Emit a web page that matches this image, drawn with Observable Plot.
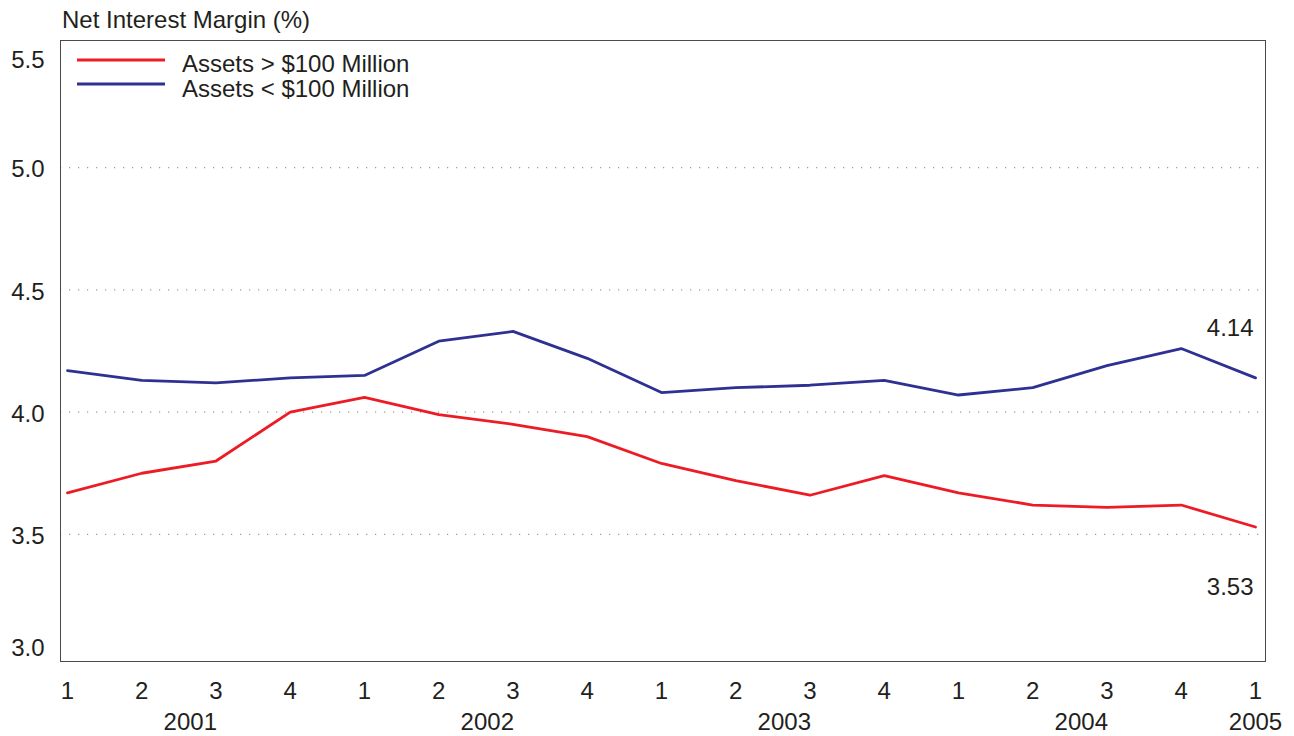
<!DOCTYPE html>
<html>
<head>
<meta charset="utf-8">
<script src="https://cdn.jsdelivr.net/npm/d3@7"></script>
<script src="https://cdn.jsdelivr.net/npm/@observablehq/plot@0.6"></script>
<style>
  html, body { margin: 0; padding: 0; background: #fff; }
  #wrap { position: relative; width: 1294px; height: 736px; font-family: "Liberation Sans", Arial, sans-serif; color: #231f20; }
  #overlay { position: absolute; left: 0; top: 0; pointer-events: none; }
</style>
</head>
<body>
<div id="wrap"></div>
<script>
// ---- data ----
const quarters = ["1","2","3","4","1","2","3","4","1","2","3","4","1","2","3","4","1"];
const years = ["2001","2002","2003","2004","2005"];
const seriesNames = ["Assets > $100 Million", "Assets < $100 Million"];
const seriesColors = ["#ED1C24", "#2E3192"];
const assetsLarge = [3.67,3.75,3.80,4.00,4.06,3.99,3.95,3.90,3.79,3.72,3.66,3.74,3.67,3.62,3.61,3.62,3.53];
const assetsSmall = [4.17,4.13,4.12,4.14,4.15,4.29,4.33,4.22,4.08,4.10,4.11,4.13,4.07,4.10,4.19,4.26,4.14];
const yTicksInner = [3.5, 4.0, 4.5, 5.0];
const yTickTop = [5.5];
const yTickBottom = [3.0];
const title = "Net Interest Margin (%)";

// ---- build tables ----
const data = quarters.map((q, i) => ({ i, q, large: assetsLarge[i], small: assetsSmall[i] }));
const yearData = years.map((year, k) => ({ year, i: k < years.length - 1 ? 4 * k + 2 : 4 * k }));
const last = data.length - 1;
const fullYears = yearData.slice(0, -1);
const lastYear = yearData.slice(-1);

const font = "'Liberation Sans', Arial, sans-serif";
const fs = 24;
const ink = "#231f20";
const fmt1 = d3.format(".1f");

const chart = Plot.plot({
  width: 1294,
  height: 736,
  marginLeft: 60,
  marginRight: 29,
  marginTop: 40,
  marginBottom: 75,
  style: { fontFamily: font, fontSize: fs + "px", color: ink, background: "#fff" },
  x: { type: "linear", domain: [0, quarters.length - 1], insetLeft: 7, insetRight: 10, axis: null, label: null },
  y: { domain: [2.98, 5.52], axis: null, label: null },
  marks: [
    Plot.ruleY(yTicksInner, { stroke: "#9a9a9a", strokeDasharray: "1.2,7.8", strokeWidth: 1.2 }),
    Plot.frame({ stroke: "#4a4a4a", strokeWidth: 1 }),
    Plot.line(data, { x: "i", y: "large", stroke: seriesColors[0], strokeWidth: 2.8 }),
    Plot.line(data, { x: "i", y: "small", stroke: seriesColors[1], strokeWidth: 2.8 }),
    Plot.axisY(yTicksInner, { tickSize: 0, tickPadding: 16, tickFormat: fmt1, fontSize: fs, dy: 2, fill: ink, label: null }),
    Plot.axisY(yTickTop, { tickSize: 0, tickPadding: 16, tickFormat: fmt1, fontSize: fs, dy: 15, fill: ink, label: null }),
    Plot.axisY(yTickBottom, { tickSize: 0, tickPadding: 16, tickFormat: fmt1, fontSize: fs, dy: -8, fill: ink, label: null }),
    Plot.axisX(data.map(d => d.i), { tickSize: 0, tickPadding: 20, tickFormat: i => quarters[i], fontSize: fs, fill: ink, label: null }),
    Plot.text(fullYears, { x: "i", text: "year", frameAnchor: "bottom", lineAnchor: "middle", dy: 61, dx: 1, textAnchor: "end", fontSize: fs, fill: ink }),
    Plot.text(lastYear, { x: "i", text: "year", frameAnchor: "bottom", lineAnchor: "middle", dy: 61, textAnchor: "middle", fontSize: fs, fill: ink }),
    Plot.text([data[last]], { x: "i", y: "small", text: d => d3.format(".2f")(d.small), textAnchor: "end", dx: -2, dy: -50, fontSize: fs, fill: ink }),
    Plot.text([data[last]], { x: "i", y: "large", text: d => d3.format(".2f")(d.large), textAnchor: "end", dx: -2, dy: 60, fontSize: fs, fill: ink })
  ]
});

const wrap = document.getElementById("wrap");
wrap.appendChild(chart);

// ---- title + legend overlay ----
const ov = d3.select(wrap).append("svg")
  .attr("id", "overlay")
  .attr("width", 1294).attr("height", 736)
  .style("font-family", font).style("font-size", fs + "px");
ov.append("text").attr("x", 62).attr("y", 28).attr("fill", ink).text(title);
seriesNames.forEach((name, k) => {
  const y = 60 + k * 24;
  ov.append("line").attr("x1", 77).attr("x2", 165).attr("y1", y).attr("y2", y)
    .attr("stroke", seriesColors[k]).attr("stroke-width", 3);
  ov.append("text").attr("x", 182).attr("y", y + 12 + k).attr("fill", ink).text(name);
});
</script>
</body>
</html>
